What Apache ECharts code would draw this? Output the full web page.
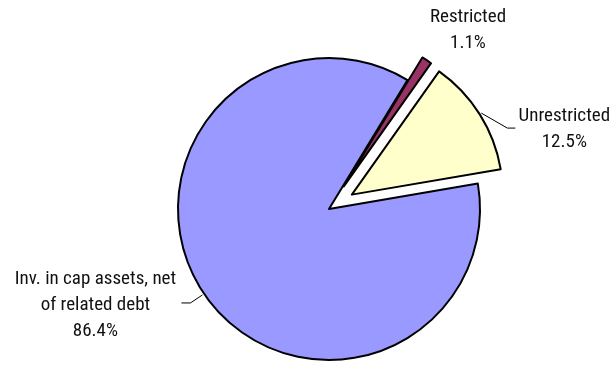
<!DOCTYPE html>
<html><head><meta charset="utf-8">
<script src="https://cdn.jsdelivr.net/npm/echarts@6/dist/echarts.min.js"></script>
<style>html,body{margin:0;padding:0;background:#fff}#c{width:612px;height:365px}</style>
</head><body><div id="c"></div>
<script>
const categories = ['Inv. in cap assets, net\nof related debt', 'Restricted', 'Unrestricted'];
const values = [86.4, 1.1, 12.5];
const colors = ['#9999FF', '#993366', '#FFFFCC'];
const exploded = [false, true, true];
const showLine = [true, false, true];

const CX = 329, CY = 209, R = 151, OFF = 27, START = 9.7;

const chart = echarts.init(document.getElementById('c'), null, {renderer: 'canvas'});
const total = values.reduce((a, b) => a + b, 0);
// mid angle (clockwise from 12 o'clock) of each slice
const mids = [];
let acc = 90 - START;
values.forEach(v => { const span = v / total * 360; mids.push(acc + span / 2); acc += span; });
function sliceCenter(i) {
  const a = mids[i] * Math.PI / 180;
  const o = exploded[i] ? OFF : 0;
  return [CX + o * Math.sin(a), CY - o * Math.cos(a)];
}
function edgePoint(i, extra) {
  const a = mids[i] * Math.PI / 180;
  const c = sliceCenter(i);
  const r = R + (extra || 0);
  return [c[0] + r * Math.sin(a), c[1] - r * Math.cos(a)];
}
const labelFont = {
  fontFamily: '"Roboto Condensed", "DejaVu Sans Condensed", sans-serif',
  fontSize: 19, lineHeight: 26, color: '#111', align: 'center'
};
function layoutFor(k) {
  return function () {
    if (k === 1) return {x: 468, y: 30, align: 'center', verticalAlign: 'middle'};
    const s = edgePoint(k, 2);
    if (k === 2) {
      return {
        x: s[0] + 83, y: s[1] + 16, align: 'center', verticalAlign: 'middle',
        labelLinePoints: [s, [s[0] + 26, s[1] + 15], [s[0] + 34, s[1] + 15]]
      };
    }
    return {
      x: s[0] - 107, y: s[1] + 10, align: 'center', verticalAlign: 'middle',
      labelLinePoints: [s, [s[0] - 12, s[1] + 8], [s[0] - 21, s[1] + 8]]
    };
  };
}
const series = categories.map((_, k) => ({
  type: 'pie',
  center: sliceCenter(k),
  radius: R,
  startAngle: START,
  clockwise: true,
  avoidLabelOverlap: false,
  emphasis: {disabled: true},
  z: k === 0 ? 2 : 3,
  labelLayout: layoutFor(k),
  data: categories.map((c, i) => i === k ? {
    name: c, value: values[i],
    itemStyle: {color: colors[i], borderColor: '#000', borderWidth: 2},
    label: Object.assign({show: true, position: 'outside',
      formatter: p => p.name + '\n' + p.value + '%'}, labelFont),
    labelLine: {show: showLine[i], lineStyle: {color: '#000', width: 1}}
  } : {
    name: c, value: values[i],
    itemStyle: {color: 'rgba(0,0,0,0)', borderWidth: 0},
    label: {show: false}, labelLine: {show: false}
  })
}));
chart.setOption({animation: false, tooltip: {show: false}, series: series});
</script>
</body></html>
